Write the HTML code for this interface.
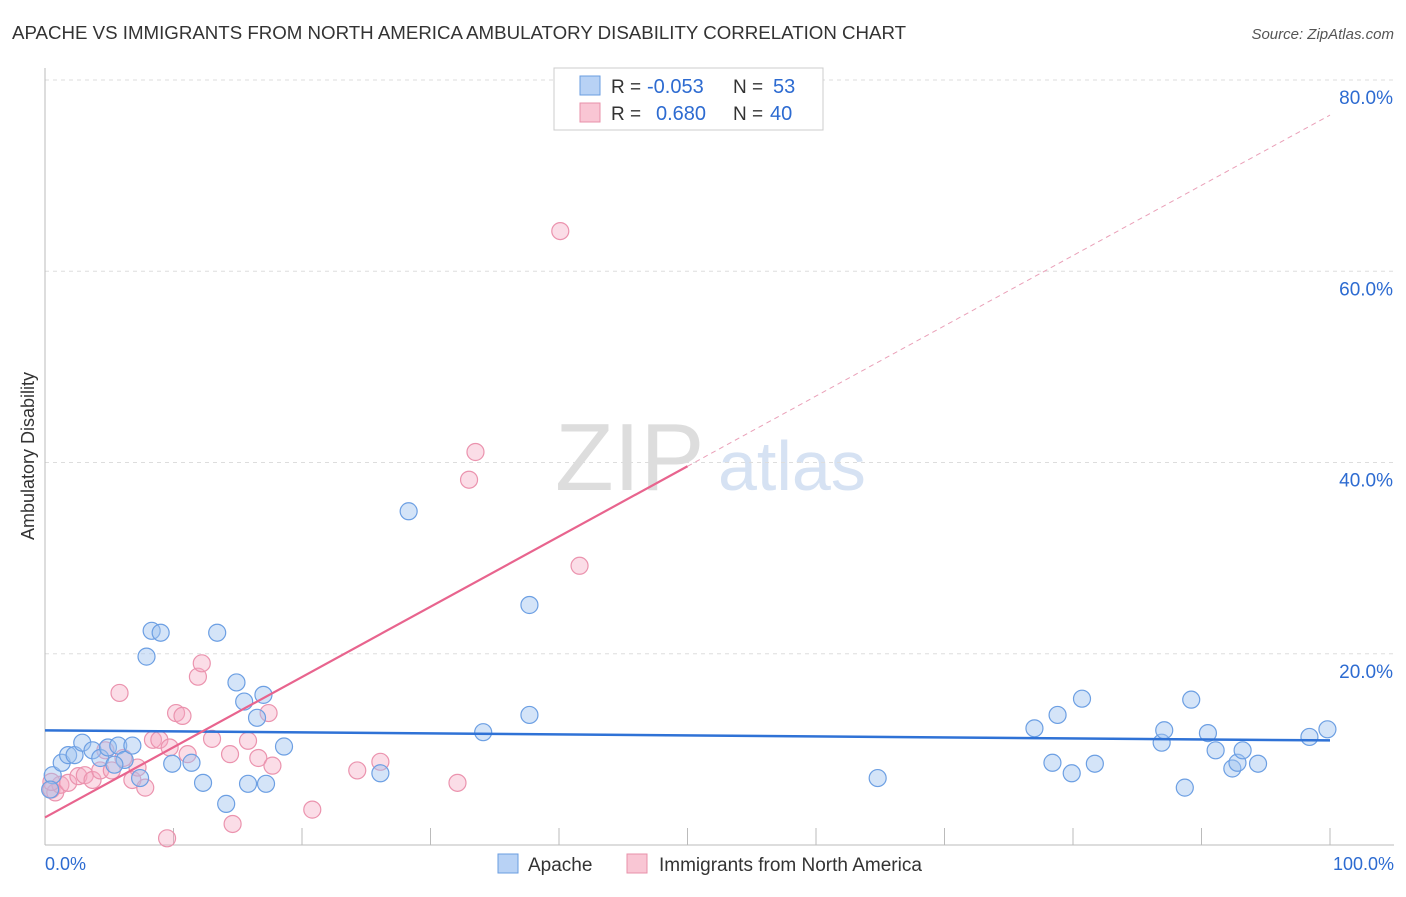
<!DOCTYPE html>
<html><head><meta charset="utf-8"><style>
body{margin:0;background:#fff;font-family:"Liberation Sans",sans-serif}
svg text{font-family:"Liberation Sans",sans-serif}
</style></head><body>
<svg id="c" width="1406" height="892">
<text x="12" y="39" font-size="18.7" fill="#333">APACHE VS IMMIGRANTS FROM NORTH AMERICA AMBULATORY DISABILITY CORRELATION CHART</text>
<text x="1394" y="39" font-size="15" fill="#555" font-style="italic" text-anchor="end">Source: ZipAtlas.com</text>
<text x="34" y="456" font-size="18" fill="#333" transform="rotate(-90 34 456)" text-anchor="middle">Ambulatory Disability</text>
<text x="555" y="490" font-size="96" fill="#ddd" font-family="Liberation Serif">ZIP</text>
<text x="718" y="490" font-size="70" fill="#d6e2f3">atlas</text>
<g id="grid"></g><g id="pts"></g><g id="lines"></g>
<g>
<rect x="554" y="68" width="269" height="62" fill="#fff" stroke="#ccc"/>
<rect x="580" y="76" width="20" height="19" fill="#b8d2f5" stroke="#6a9de0"/>
<rect x="580" y="103" width="20" height="19" fill="#f9c6d4" stroke="#e890aa"/>
<text x="611" y="93" font-size="19" fill="#333">R =</text>
<text x="647" y="93" font-size="20" fill="#2d6bd1">-0.053</text>
<text x="733" y="93" font-size="19" fill="#333">N =</text>
<text x="773" y="93" font-size="20" fill="#2d6bd1">53</text>
<text x="611" y="120" font-size="19" fill="#333">R =</text>
<text x="656" y="120" font-size="20" fill="#2d6bd1">0.680</text>
<text x="733" y="120" font-size="19" fill="#333">N =</text>
<text x="770" y="120" font-size="20" fill="#2d6bd1">40</text>
</g>
<g>
<rect x="498" y="854" width="20" height="19" fill="#b8d2f5" stroke="#6a9de0"/>
<text x="528" y="871" font-size="19" fill="#333">Apache</text>
<rect x="627" y="854" width="20" height="19" fill="#f9c6d4" stroke="#e890aa"/>
<text x="659" y="871" font-size="19" fill="#333">Immigrants from North America</text>
</g>
<text x="45" y="870" font-size="18" fill="#2d6bd1">0.0%</text>
<text x="1394" y="870" font-size="18" fill="#2d6bd1" text-anchor="end">100.0%</text>
</svg>
<script>
const yTicks=[20,40,60,80];
const apacheX=[0.6,0.4,1.3,1.8,2.3,2.9,3.7,4.3,4.9,5.7,6.2,6.8,7.4,5.4,7.9,8.3,9.0,9.9,11.4,12.3,13.4,14.1,14.9,15.5,15.8,16.5,17.0,17.2,18.6,26.1,28.3,34.1,37.7,37.7,64.8,77.0,78.4,78.8,79.9,80.7,81.7,86.9,87.1,88.7,89.2,90.5,91.1,92.4,92.8,93.2,94.4,98.4,99.8];
const apacheY=[7.3,5.8,8.6,9.4,9.4,10.7,9.9,9.1,10.2,10.4,8.9,10.4,7.0,8.4,19.7,22.4,22.2,8.5,8.6,6.5,22.2,4.3,17.0,15.0,6.4,13.3,15.7,6.4,10.3,7.5,34.9,11.8,25.1,13.6,7.0,12.2,8.6,13.6,7.5,15.3,8.5,10.7,12.0,6.0,15.2,11.7,9.9,8.0,8.6,9.9,8.5,11.3,12.1];
const immX=[0.5,0.8,1.2,1.8,2.6,3.1,3.7,4.3,4.7,5.2,5.8,6.1,6.8,7.2,7.8,8.4,8.9,9.5,9.7,10.2,10.7,11.1,11.9,12.2,13.0,14.4,14.6,15.8,16.6,17.4,17.7,20.8,24.3,26.1,32.1,33.0,33.5,40.1,41.6,0.5];
const immY=[5.8,5.5,6.3,6.5,7.2,7.3,6.8,7.8,9.9,7.8,15.9,9.1,6.8,8.1,6.0,11.0,11.0,0.7,10.2,13.8,13.5,9.5,17.6,19.0,11.1,9.5,2.2,10.9,9.1,13.8,8.3,3.7,7.8,8.7,6.5,38.2,41.1,64.2,29.2,6.6];
const X0=45,X1=1330,Y0=845,PY=9.5625;
const sx=v=>X0+(X1-X0)*v/100, sy=v=>Y0-PY*v;
const NS="http://www.w3.org/2000/svg";
function mk(t,a,p){const e=document.createElementNS(NS,t);for(const k in a)e.setAttribute(k,a[k]);p.appendChild(e);return e;}
const grid=document.getElementById('grid');
yTicks.forEach(t=>{
 const l=mk('line',{x1:45,x2:1394,y1:sy(t),y2:sy(t),stroke:'#ddd','stroke-dasharray':'4,4'},grid);
 
 
 const tx=mk('text',{x:1393,y:sy(t)+24,'font-size':19,fill:'#2d6bd1','text-anchor':'end'},grid);
 tx.textContent=t.toFixed(1)+'%';
 
 
});
mk('line',{x1:45,x2:45,y1:68,y2:845,stroke:'#bbb'},grid);
mk('line',{x1:45,x2:1394,y1:845,y2:845,stroke:'#bbb'},grid);
for(let i=1;i<=10;i++){mk('line',{x1:sx(i*10),x2:sx(i*10),y1:828,y2:845,stroke:'#bbb'},grid);}
const pts=document.getElementById('pts');
immX.forEach((v,i)=>{
 const c=mk('circle',{cx:sx(v),cy:sy(immY[i]),r:8.5,fill:'rgba(246,170,195,0.4)',stroke:'#eb93ae','stroke-width':1.2},pts);
 
 
});
apacheX.forEach((v,i)=>{
 const c=mk('circle',{cx:sx(v),cy:sy(apacheY[i]),r:8.5,fill:'rgba(160,195,240,0.45)',stroke:'#6c9fe3','stroke-width':1.2},pts);
 
 
});
function fit(xs,ys){const n=xs.length;let mx=0,my=0;xs.forEach((x,i)=>{mx+=x;my+=ys[i]});mx/=n;my/=n;let sxy=0,sxx=0;xs.forEach((x,i)=>{sxy+=(x-mx)*(ys[i]-my);sxx+=(x-mx)**2});const b=sxy/sxx;return[my-b*mx,b];}
const ln=document.getElementById('lines');
const [ba,bb]=fit(apacheX,apacheY);
const bl=mk('line',{x1:sx(0),y1:sy(ba),x2:sx(100),y2:sy(ba+bb*100),stroke:'#2f72d6','stroke-width':2.5},ln);


const [pa,pb]=fit(immX,immY);
const pl=mk('line',{x1:sx(0),y1:sy(pa),x2:sx(50),y2:sy(pa+pb*50),stroke:'#e8648e','stroke-width':2.2},ln);


const pd=mk('line',{x1:sx(50),y1:sy(pa+pb*50),x2:sx(100),y2:sy(pa+pb*100),stroke:'#eaa0b8','stroke-width':1,'stroke-dasharray':'5,4'},ln);


</script>
</body></html>
